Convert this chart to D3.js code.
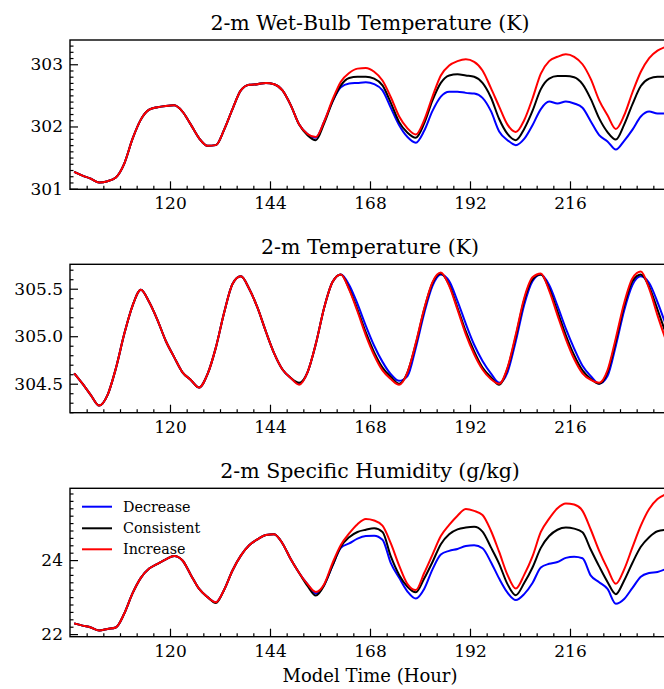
<!DOCTYPE html>
<html>
<head>
<meta charset="utf-8">
<script src="https://cdn.jsdelivr.net/npm/d3@7"></script>
<style>
  body { margin: 0; background: #fff; }
  svg { display: block; }
  text { font-family: "DejaVu Serif", serif; fill: #000; }
</style>
</head>
<body>
<svg id="chart" width="664" height="689"></svg>
<script>
// Model hours (every 2 h)
const hours = d3.range(97, 240, 2);
const xTicks = [120, 144, 168, 192, 216];
const seriesNames = ["Decrease", "Consistent", "Increase"];
const seriesColors = ["#0000ff", "#000000", "#ff0000"];

// 2-m wet-bulb temperature (K)
const wbDecrease = [301.27,301.21,301.16,301.10,301.12,301.18,301.40,301.80,302.11,302.27,302.31,302.33,302.34,302.24,302.03,301.81,301.69,301.70,301.95,302.28,302.58,302.67,302.68,302.70,302.68,302.58,302.34,302.03,301.88,
  301.82,302.08,302.40,302.63,302.69,302.70,302.71,302.68,302.58,302.30,302.02,301.83,301.74,301.93,302.25,302.48,302.56,302.56,302.54,302.53,302.46,302.25,301.92,301.78,301.70,301.80,302.02,302.28,302.40,302.37,302.40,302.37,302.30,302.08,301.86,301.76,301.63,301.77,301.95,302.16,302.24,302.21,302.21];
const wbConsistent = [301.27,301.21,301.16,301.10,301.12,301.18,301.40,301.80,302.11,302.27,302.31,302.33,302.34,302.24,302.03,301.81,301.69,301.70,301.95,302.28,302.58,302.67,302.68,302.70,302.68,302.58,302.34,302.03,301.86,
  301.78,302.05,302.40,302.66,302.78,302.80,302.80,302.77,302.66,302.38,302.07,301.90,301.82,302.05,302.42,302.70,302.82,302.84,302.82,302.80,302.70,302.47,302.12,301.88,301.78,301.96,302.25,302.60,302.77,302.81,302.81,302.79,302.68,302.44,302.13,301.91,301.79,302.03,302.36,302.65,302.77,302.80,302.80];
const wbIncrease = [301.27,301.21,301.16,301.10,301.12,301.18,301.40,301.80,302.11,302.27,302.31,302.33,302.34,302.24,302.03,301.81,301.69,301.70,301.95,302.28,302.58,302.67,302.68,302.70,302.68,302.58,302.34,302.03,301.88,
  301.83,302.08,302.43,302.72,302.86,302.93,302.94,302.88,302.74,302.47,302.16,301.97,301.87,302.10,302.48,302.82,302.98,303.05,303.08,303.04,302.90,302.62,302.32,302.03,301.91,302.10,302.45,302.85,303.05,303.12,303.16,303.12,303.00,302.76,302.42,302.18,301.96,302.18,302.55,302.88,303.10,303.22,303.28];

// 2-m temperature (K)
const tDecrease = [304.61,304.50,304.38,304.27,304.38,304.66,305.02,305.32,305.49,305.36,305.17,304.95,304.78,304.62,304.54,304.46,304.60,304.88,305.25,305.55,305.63,305.50,305.30,305.05,304.82,304.65,304.56,304.50,304.62,304.92,305.30,305.57,305.65,
  305.54,305.34,305.11,304.90,304.73,304.60,304.53,304.58,304.88,305.24,305.53,305.65,305.58,305.37,305.13,304.91,304.74,304.61,304.51,304.62,304.95,305.33,305.58,305.65,305.54,305.32,305.08,304.87,304.69,304.58,304.50,304.58,304.90,305.27,305.54,305.63,305.56,305.36,305.12];
const tConsistent = [304.61,304.50,304.38,304.27,304.38,304.66,305.02,305.32,305.49,305.36,305.17,304.95,304.78,304.62,304.54,304.46,304.60,304.88,305.25,305.55,305.63,305.50,305.30,305.05,304.82,304.65,304.56,304.51,304.62,304.92,305.30,305.57,305.65,
  305.50,305.28,305.04,304.83,304.67,304.57,304.50,304.62,304.92,305.28,305.56,305.66,305.54,305.30,305.05,304.84,304.67,304.57,304.49,304.66,305.00,305.38,305.60,305.65,305.50,305.26,305.01,304.80,304.64,304.55,304.50,304.62,304.95,305.32,305.58,305.65,305.52,305.28,305.03];
const tIncrease = [304.61,304.50,304.38,304.27,304.38,304.66,305.02,305.32,305.49,305.36,305.17,304.95,304.78,304.62,304.54,304.46,304.60,304.88,305.25,305.55,305.63,305.50,305.30,305.05,304.82,304.65,304.56,304.49,304.62,304.92,305.30,305.57,305.65,
  305.49,305.26,305.01,304.80,304.64,304.55,304.49,304.62,304.93,305.29,305.57,305.67,305.53,305.28,305.02,304.81,304.65,304.55,304.50,304.67,305.02,305.40,305.62,305.66,305.48,305.22,304.97,304.76,304.61,304.54,304.51,304.64,304.98,305.35,305.61,305.68,305.50,305.22,304.96];

// 2-m specific humidity (g/kg)
const qDecrease = [22.29,22.23,22.18,22.10,22.14,22.18,22.55,23.10,23.52,23.77,23.90,24.02,24.11,23.99,23.60,23.22,23.00,22.86,23.20,23.72,24.12,24.40,24.56,24.68,24.70,24.45,24.02,23.65,23.35,
  23.10,23.33,23.85,24.33,24.45,24.58,24.65,24.66,24.55,23.92,23.52,23.15,22.96,23.22,23.75,24.15,24.25,24.30,24.38,24.40,24.32,23.95,23.50,23.12,22.92,23.08,23.38,23.80,23.90,23.95,24.06,24.09,24.05,23.58,23.40,23.22,22.82,22.95,23.25,23.55,23.65,23.68,23.76];
const qConsistent = [22.29,22.23,22.18,22.10,22.14,22.18,22.55,23.10,23.52,23.77,23.90,24.02,24.11,23.99,23.60,23.22,23.00,22.84,23.20,23.72,24.12,24.40,24.56,24.68,24.70,24.45,24.02,23.65,23.30,
  23.04,23.32,23.85,24.36,24.62,24.76,24.82,24.86,24.76,24.10,23.60,23.28,23.13,23.50,23.95,24.43,24.70,24.83,24.88,24.90,24.77,24.35,23.90,23.35,23.05,23.38,23.80,24.33,24.65,24.82,24.88,24.85,24.75,24.28,23.83,23.41,23.08,23.45,23.93,24.36,24.62,24.78,24.82];
const qIncrease = [22.29,22.23,22.18,22.10,22.14,22.18,22.55,23.10,23.52,23.77,23.90,24.02,24.11,23.99,23.60,23.22,23.00,22.86,23.20,23.72,24.12,24.40,24.56,24.68,24.70,24.45,24.02,23.65,23.35,
  23.14,23.35,23.92,24.41,24.72,24.97,25.11,25.07,24.93,24.45,23.85,23.35,23.19,23.65,24.15,24.65,24.95,25.20,25.38,25.33,25.22,24.80,24.22,23.60,23.23,23.60,24.10,24.76,25.12,25.40,25.53,25.50,25.33,24.82,24.25,23.77,23.36,23.75,24.35,24.93,25.38,25.65,25.78];

const wbTicks = [301, 302, 303];
const tTicks = [304.5, 305.0, 305.5];
const qTicks = [22, 24];

const panels = [
  { title: "2-m Wet-Bulb Temperature (K)", top: 40, bottom: 189.3, ylim: [300.99, 303.39],
    ticks: wbTicks, minor: 0.1, fmt: d3.format("d"), series: [wbDecrease, wbConsistent, wbIncrease] },
  { title: "2-m Temperature (K)", top: 264.3, bottom: 412.7, ylim: [304.195, 305.757],
    ticks: tTicks, minor: 0.1, fmt: d3.format(".1f"), series: [tDecrease, tConsistent, tIncrease] },
  { title: "2-m Specific Humidity (g/kg)", top: 488.3, bottom: 636.7, ylim: [21.93, 25.94],
    ticks: qTicks, minor: 0.2, fmt: d3.format("d"), series: [qDecrease, qConsistent, qIncrease], legend: true }
];

const svg = d3.select("#chart");
const left = 70, right = 670;
const x = d3.scaleLinear().domain([96, 240]).range([left, right]);
const xMinor = d3.range(96, 241, 4).filter(h => h % 24 !== 0);

panels.forEach((p, i) => {
  const y = d3.scaleLinear().domain(p.ylim).range([p.bottom, p.top]);
  const g = svg.append("g");

  const clipId = "clip" + i;
  svg.append("clipPath").attr("id", clipId)
    .append("rect").attr("x", left).attr("y", p.top)
    .attr("width", right - left).attr("height", p.bottom - p.top);

  // lines
  const line = d3.line().curve(d3.curveMonotoneX)
    .x((d, j) => x(hours[j])).y(d => y(d));
  const lg = g.append("g").attr("clip-path", `url(#${clipId})`);
  p.series.forEach((vals, k) => {
    lg.append("path").datum(vals)
      .attr("d", line)
      .attr("fill", "none")
      .attr("stroke", seriesColors[k])
      .attr("stroke-width", 2)
      .attr("stroke-linejoin", "round");
  });

  // x axis (ticks pointing inward)
  const xa = g.append("g").attr("transform", `translate(0,${p.bottom})`)
    .call(d3.axisBottom(x).tickValues(xTicks).tickSizeInner(-8).tickSizeOuter(0).tickPadding(8));
  xa.append("g").call(d3.axisBottom(x).tickValues(xMinor).tickSizeInner(-3.5).tickSizeOuter(0).tickFormat(""));

  // y axis
  const [y0, y1] = p.ylim;
  const minorVals = d3.range(Math.ceil(y0 / p.minor) * p.minor, y1, p.minor)
    .map(v => +v.toFixed(3))
    .filter(v => !p.ticks.some(t => Math.abs(t - v) < 1e-6));
  const ya = g.append("g").attr("transform", `translate(${left},0)`)
    .call(d3.axisLeft(y).tickValues(p.ticks).tickFormat(p.fmt).tickSizeInner(-8).tickSizeOuter(0).tickPadding(7));
  ya.append("g").call(d3.axisLeft(y).tickValues(minorVals).tickSizeInner(-3.5).tickSizeOuter(0).tickFormat(""));

  g.selectAll(".domain").remove();
  g.selectAll(".tick line").attr("stroke", "#000").attr("stroke-width", 1.2);
  g.selectAll(".tick text").attr("font-family", "DejaVu Serif").attr("font-size", 17).attr("fill", "#000");

  // frame
  g.append("rect").attr("x", left).attr("y", p.top)
    .attr("width", right - left).attr("height", p.bottom - p.top)
    .attr("fill", "none").attr("stroke", "#000").attr("stroke-width", 1.4);

  // title
  g.append("text").attr("x", (left + right) / 2).attr("y", p.top - 10.5)
    .attr("text-anchor", "middle").attr("font-size", 20.5).text(p.title);

  if (p.legend) {
    const rows = [506.7, 528.3, 549.3];
    seriesNames.forEach((name, k) => {
      g.append("line").attr("x1", 82).attr("x2", 112).attr("y1", rows[k]).attr("y2", rows[k])
        .attr("stroke", seriesColors[k]).attr("stroke-width", 2);
      g.append("text").attr("x", 123).attr("y", rows[k]).attr("dy", "0.35em")
        .attr("font-size", 14.3).text(name);
    });
  }
});

svg.append("text").attr("x", (left + right) / 2).attr("y", 682)
  .attr("text-anchor", "middle").attr("font-size", 18).text("Model Time (Hour)");
</script>
</body>
</html>
